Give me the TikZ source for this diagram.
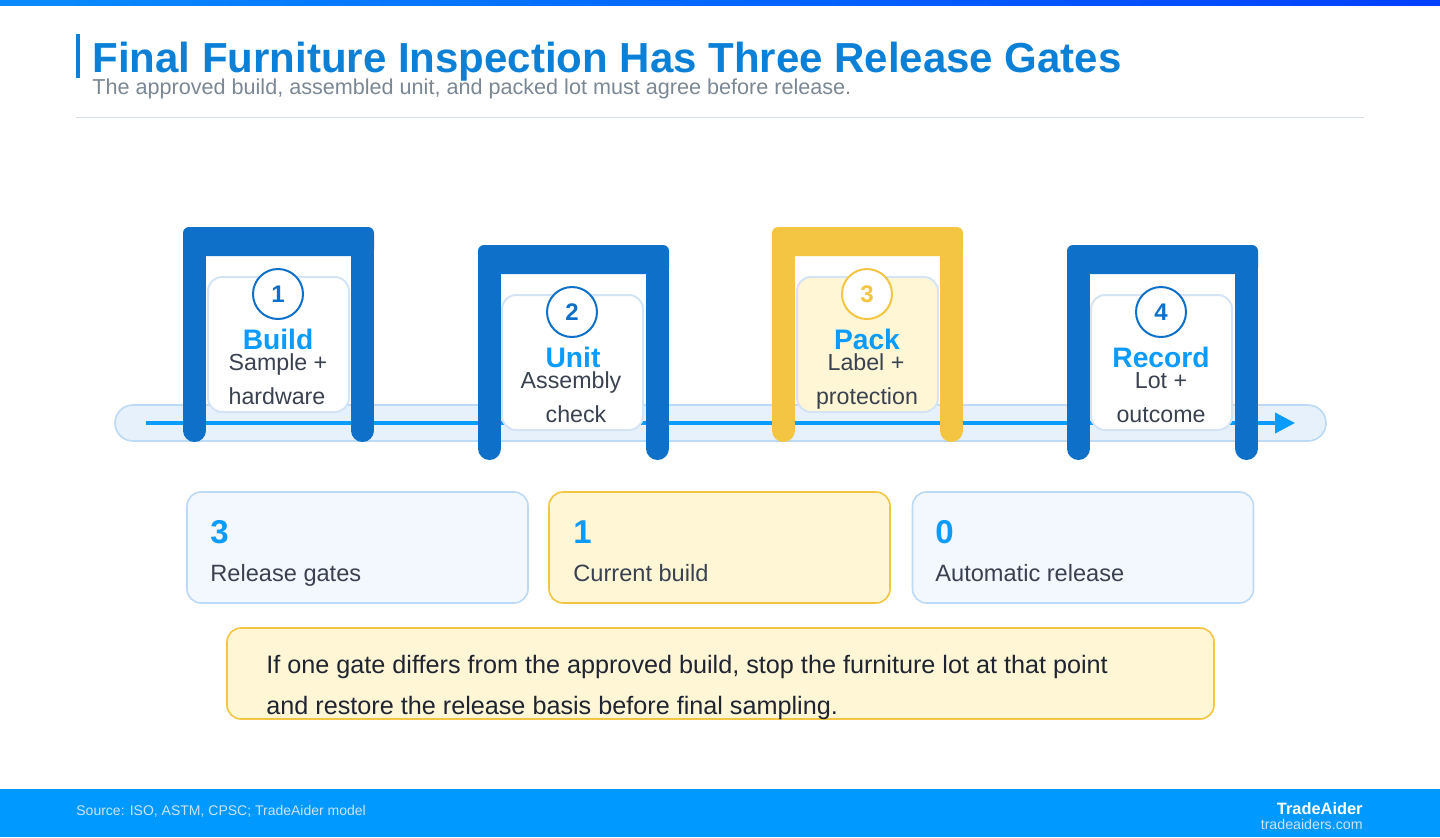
\documentclass[tikz,border=0pt]{standalone}
\usepackage{fontspec}
\setmainfont{Liberation Sans}
\usetikzlibrary{arrows.meta}

\definecolor{gateblue}{HTML}{0E70C8}
\definecolor{gategold}{HTML}{F4C542}
\definecolor{skyblue}{HTML}{0A9BFF}
\definecolor{titleblue}{HTML}{0B80D6}
\definecolor{subgray}{HTML}{7B8794}
\definecolor{textdark}{HTML}{3A4150}
\definecolor{notedark}{HTML}{1F2430}
\definecolor{trackfill}{HTML}{E6F1FC}
\definecolor{trackline}{HTML}{BCD9F5}
\definecolor{cardline}{HTML}{D4E4F5}
\definecolor{statfill}{HTML}{F3F8FE}
\definecolor{paleyellow}{HTML}{FFF6D6}
\definecolor{footblue}{HTML}{0099FF}
\definecolor{footgray}{HTML}{C9E4FF}
\definecolor{sepline}{HTML}{D3DEE8}

\tikzset{
  gatebar/.style={rounded corners=3pt},
  gateleg/.style={line width=11.5pt, line cap=round},
  stepcard/.style={draw=cardline, line width=1pt, fill=white, rounded corners=7pt,
    minimum width=70.5pt, minimum height=67.5pt, inner sep=0pt},
  numring/.style={circle, draw=gateblue, line width=1pt, fill=white, minimum size=25pt,
    inner sep=0pt, text=gateblue, font=\fontsize{12}{13}\selectfont\bfseries},
  steplabel/.style={anchor=base, text=skyblue, inner sep=0pt, font=\fontsize{14.1}{16}\selectfont\bfseries},
  stepdesc/.style={anchor=base, text=textdark, inner sep=0pt, font=\fontsize{11.6}{13}\selectfont},
  statcard/.style={draw=trackline, line width=0.8pt, fill=statfill, rounded corners=7pt,
    minimum width=170.5pt, minimum height=55.5pt, inner sep=0pt},
  statnum/.style={anchor=base west, text=skyblue, inner sep=0pt, font=\fontsize{16.5}{18}\selectfont\bfseries},
  stattext/.style={anchor=base west, text=textdark, inner sep=0pt, font=\fontsize{11.8}{13}\selectfont},
  notetext/.style={anchor=base west, text=notedark, inner sep=0pt, font=\fontsize{12.6}{15}\selectfont}
}

\begin{document}
\begin{tikzpicture}[x=0.5pt,y=-0.5pt]
\useasboundingbox (0,0) rectangle (1440,837);

% header
\shade[left color=skyblue!90!blue, right color=blue!75!cyan] (0,0) rectangle (1440,5);
\fill[titleblue] (76,34) rectangle (80,78);
\node[anchor=base west, inner sep=0pt, text=titleblue, font=\fontsize{21}{24}\selectfont\bfseries]
  (title) at (92,72) {Final Furniture Inspection Has Three Release Gates};
\node[anchor=base west, inner sep=0pt, text=subgray, font=\fontsize{10.8}{12}\selectfont]
  (subtitle) at (92,94) {The approved build, assembled unit, and packed lot must agree before release.};
\draw[sepline, line width=0.5pt] (76,117) -- (1364,117);

% track
\draw[trackline, fill=trackfill, line width=0.8pt, rounded corners=9pt] (115,405) rectangle (1326,441);
\coordinate (trackstart) at (146,423);
\coordinate (trackend) at (1295,423);
\draw[skyblue, line width=2pt, -{Triangle[length=10pt,width=10pt]}] (trackstart) -- (trackend);

% gate 1
\fill[gateblue, gatebar] (183,227) rectangle (374,256);
\draw[gateblue, gateleg] (194.5,240) -- (194.5,430.5);
\draw[gateblue, gateleg] (362.5,240) -- (362.5,430.5);
% gate 2
\fill[gateblue, gatebar] (478,245) rectangle (669,274);
\draw[gateblue, gateleg] (489.5,258) -- (489.5,448.5);
\draw[gateblue, gateleg] (657.5,258) -- (657.5,448.5);
% gate 3
\fill[gategold, gatebar] (772,227) rectangle (963,256);
\draw[gategold, gateleg] (783.5,240) -- (783.5,430.5);
\draw[gategold, gateleg] (951.5,240) -- (951.5,430.5);
% gate 4
\fill[gateblue, gatebar] (1067,245) rectangle (1258,274);
\draw[gateblue, gateleg] (1078.5,258) -- (1078.5,448.5);
\draw[gateblue, gateleg] (1246.5,258) -- (1246.5,448.5);

% step cards
\node[stepcard] (card1) at (278.5,344.5) {};
\node[stepcard] (card2) at (572.5,362.5) {};
\node[stepcard, fill=paleyellow] (card3) at (867.5,344.5) {};
\node[stepcard] (card4) at (1161.5,362.5) {};

\node[numring] (ring1) at (278,294) {1};
\node[numring] (ring2) at (572,312) {2};
\node[numring, draw=gategold, text=gategold] (ring3) at (867,294) {3};
\node[numring] (ring4) at (1161,312) {4};

\node[steplabel] (lab1) at (278,349) {Build};
\node[stepdesc] (desc1a) at (278,370) {Sample +};
\node[stepdesc] (desc1b) at (277,404) {hardware};

\node[steplabel] (lab2) at (573,367) {Unit};
\node[stepdesc] (desc2a) at (571,388) {Assembly};
\node[stepdesc] (desc2b) at (576,422) {check};

\node[steplabel] (lab3) at (867,349) {Pack};
\node[stepdesc] (desc3a) at (866,370) {Label +};
\node[stepdesc] (desc3b) at (867,404) {protection};

\node[steplabel] (lab4) at (1161,367) {Record};
\node[stepdesc] (desc4a) at (1161,388) {Lot +};
\node[stepdesc] (desc4b) at (1161,422) {outcome};

% stat cards
\node[statcard] (statA) at (357.5,547.5) {};
\node[statcard, draw=gategold, fill=paleyellow] (statB) at (719.5,547.5) {};
\node[statcard] (statC) at (1083,547.5) {};

\node[statnum] (numA) at (210,543) {3};
\node[stattext] (txtA) at (210,581) {Release gates};
\node[statnum] (numB) at (573,543) {1};
\node[stattext] (txtB) at (573,581) {Current build};
\node[statnum] (numC) at (935,543) {0};
\node[stattext] (txtC) at (935,581) {Automatic release};

% note
\node[draw=gategold, line width=0.8pt, fill=paleyellow, rounded corners=7pt,
  minimum width=493.5pt, minimum height=45.5pt, inner sep=0pt] (note) at (720.5,673.5) {};
\node[notetext] (notea) at (266,673) {If one gate differs from the approved build, stop the furniture lot at that point};
\node[notetext] (noteb) at (266,714) {and restore the release basis before final sampling.};

% footer
\fill[footblue] (0,789) rectangle (1440,837);
\node[anchor=base west, inner sep=0pt, text=footgray, font=\fontsize{7}{8}\selectfont]
  (source) at (76,815) {Source: ISO, ASTM, CPSC; TradeAider model};
\node[anchor=base east, inner sep=0pt, text=white, font=\fontsize{8.2}{9}\selectfont\bfseries]
  (brand) at (1363,814) {TradeAider};
\node[anchor=base east, inner sep=0pt, text=footgray, font=\fontsize{7.1}{8}\selectfont]
  (site) at (1363,829) {tradeaiders.com};
\end{tikzpicture}
\end{document}
